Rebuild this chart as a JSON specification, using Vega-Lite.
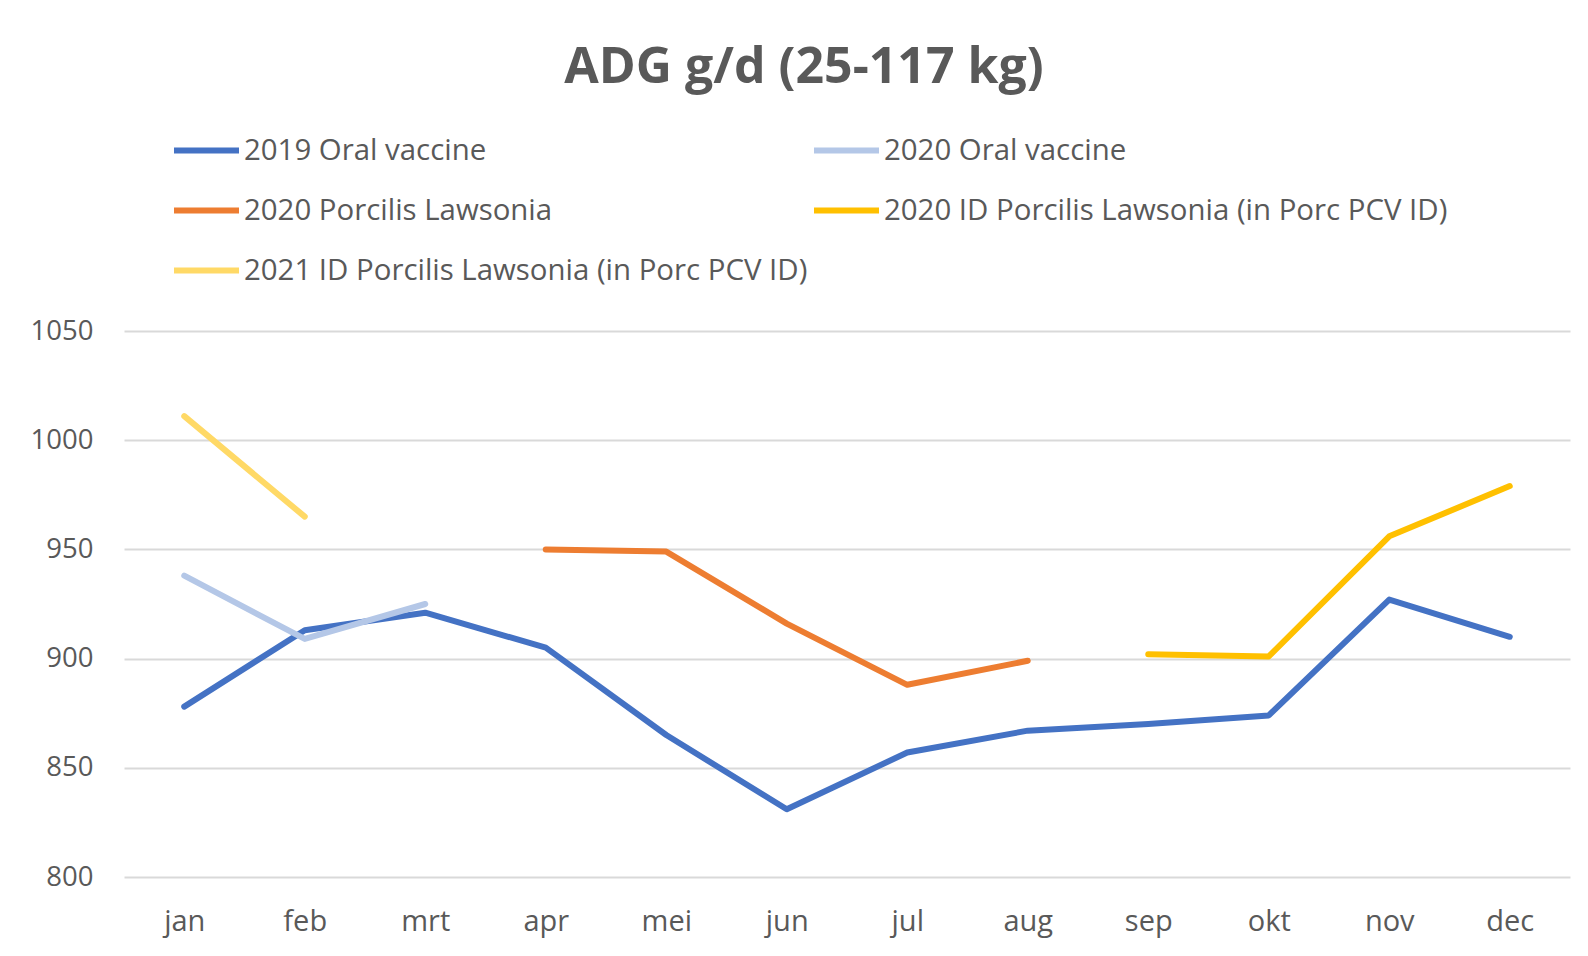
{
  "$schema": "https://vega.github.io/schema/vega-lite/v6.json",
  "width": 1446,
  "height": 546,
  "autosize": {"type": "none"},
  "padding": {"left": 124, "top": 331, "right": 18, "bottom": 79},
  "background": "white",
  "title": {"text": "ADG g/d (25-117 kg)", "font": "Open Sans", "fontSize": 50, "fontWeight": "bold", "color": "#595959", "anchor": "middle", "frame": "group", "dx": -43, "offset": -18, "baseline": "alphabetic"},
  "data": {"values": [
    {"month": "jan", "series": "2019 Oral vaccine", "adg": 878},
    {"month": "feb", "series": "2019 Oral vaccine", "adg": 913},
    {"month": "mrt", "series": "2019 Oral vaccine", "adg": 921},
    {"month": "apr", "series": "2019 Oral vaccine", "adg": 905},
    {"month": "mei", "series": "2019 Oral vaccine", "adg": 865},
    {"month": "jun", "series": "2019 Oral vaccine", "adg": 831},
    {"month": "jul", "series": "2019 Oral vaccine", "adg": 857},
    {"month": "aug", "series": "2019 Oral vaccine", "adg": 867},
    {"month": "sep", "series": "2019 Oral vaccine", "adg": 870},
    {"month": "okt", "series": "2019 Oral vaccine", "adg": 874},
    {"month": "nov", "series": "2019 Oral vaccine", "adg": 927},
    {"month": "dec", "series": "2019 Oral vaccine", "adg": 910},
    {"month": "jan", "series": "2020 Oral vaccine", "adg": 938},
    {"month": "feb", "series": "2020 Oral vaccine", "adg": 909},
    {"month": "mrt", "series": "2020 Oral vaccine", "adg": 925},
    {"month": "apr", "series": "2020 Porcilis Lawsonia", "adg": 950},
    {"month": "mei", "series": "2020 Porcilis Lawsonia", "adg": 949},
    {"month": "jun", "series": "2020 Porcilis Lawsonia", "adg": 916},
    {"month": "jul", "series": "2020 Porcilis Lawsonia", "adg": 888},
    {"month": "aug", "series": "2020 Porcilis Lawsonia", "adg": 899},
    {"month": "sep", "series": "2020 ID Porcilis Lawsonia (in Porc PCV ID)", "adg": 902},
    {"month": "okt", "series": "2020 ID Porcilis Lawsonia (in Porc PCV ID)", "adg": 901},
    {"month": "nov", "series": "2020 ID Porcilis Lawsonia (in Porc PCV ID)", "adg": 956},
    {"month": "dec", "series": "2020 ID Porcilis Lawsonia (in Porc PCV ID)", "adg": 979},
    {"month": "jan", "series": "2021 ID Porcilis Lawsonia (in Porc PCV ID)", "adg": 1011},
    {"month": "feb", "series": "2021 ID Porcilis Lawsonia (in Porc PCV ID)", "adg": 965}
  ]},
  "mark": {"type": "line", "strokeWidth": 6, "strokeCap": "round", "strokeJoin": "round"},
  "encoding": {
    "x": {"field": "month", "type": "ordinal", "sort": ["jan", "feb", "mrt", "apr", "mei", "jun", "jul", "aug", "sep", "okt", "nov", "dec"],
      "axis": {"title": null, "labelAngle": 0, "domain": false, "ticks": false, "grid": false, "labelFont": "Open Sans", "labelFontSize": 29, "labelColor": "#595959", "labelPadding": 30}},
    "y": {"field": "adg", "type": "quantitative", "scale": {"domain": [800, 1050], "nice": false, "zero": false},
      "axis": {"title": null, "values": [800, 850, 900, 950, 1000, 1050], "format": "d", "domain": false, "ticks": false, "grid": true, "gridColor": "#D9D9D9", "gridWidth": 2, "labelFont": "Open Sans", "labelFontSize": 27.5, "labelColor": "#595959", "labelPadding": 31}},
    "color": {"field": "series", "type": "nominal",
      "scale": {"domain": ["2019 Oral vaccine", "2020 Porcilis Lawsonia", "2021 ID Porcilis Lawsonia (in Porc PCV ID)", "2020 Oral vaccine", "2020 ID Porcilis Lawsonia (in Porc PCV ID)"],
        "range": ["#4472C4", "#ED7D31", "#FFD966", "#B4C7E7", "#FFC000"]},
      "legend": {"orient": "none", "legendX": 47, "legendY": -216, "columns": 2, "columnPadding": -6, "rowPadding": 10, "symbolType": "stroke", "symbolSize": 4225, "symbolStrokeWidth": 6, "labelFont": "Open Sans", "labelFontSize": 29.4, "labelColor": "#595959", "labelLimit": 1000, "labelOffset": 2, "title": null, "padding": 0}}
  },
  "config": {"view": {"stroke": null}}
}
